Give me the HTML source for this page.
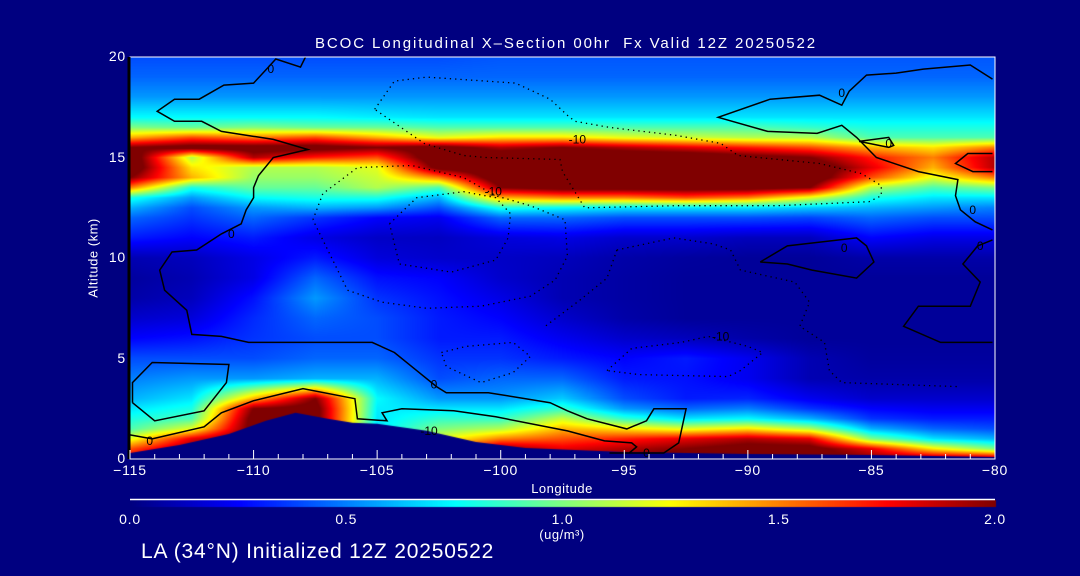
<!DOCTYPE html>
<html><head><meta charset="utf-8">
<style>
html,body{margin:0;padding:0;background:#000080;}
#wrap{position:relative;width:1080px;height:576px;background:#000080;overflow:hidden;font-family:"Liberation Sans",sans-serif;color:#fff;}
.t{position:absolute;white-space:nowrap;font-size:14px;}
canvas,svg{position:absolute;left:0;top:0;}
</style></head>
<body>
<div id="wrap">
<canvas id="plot" width="1080" height="576"></canvas>
<svg id="ov" width="1080" height="576"></svg>
<div class="t" style="left:0;width:1132px;text-align:center;top:35px;font-size:15px;letter-spacing:1.9px;">BCOC Longitudinal X–Section 00hr&nbsp;&nbsp;Fx Valid 12Z 20250522</div>
<div class="t" style="left:0;width:1124px;text-align:center;top:481px;font-size:13px;letter-spacing:0.5px;">Longitude</div>
<div class="t" style="left:93px;top:258px;font-size:13px;letter-spacing:0.5px;transform:translate(-50%,-50%) rotate(-90deg);">Altitude (km)</div>
<div class="t" style="left:562px;top:527px;font-size:13px;letter-spacing:0.5px;transform:translateX(-50%);">(ug/m³)</div>
<div class="t" style="left:141px;top:540px;font-size:21px;letter-spacing:0.8px;">LA (34°N) Initialized 12Z 20250522</div>
<div id="labels"></div>
</div>
<script>
const lons=[-115,-112.5,-110,-107.5,-105,-102.5,-100,-97.5,-95,-92.5,-90,-87.5,-85,-82.5,-80];
const levels=[0,0.5,1,1.5,2,2.5,3,4,5,6,7,8,9,10,11,12,12.5,13,13.5,14,14.5,15,15.5,16,16.5,17,18,19,20];
const concByLon=[
[1.8,1.6,1.2,0.9,0.8,0.7,0.6,0.5,0.4,0.25,0.15,0.08,0.06,0.1,0.3,0.45,0.6,0.8,1.5,2.0,2.2,2.2,2.0,1.4,1.0,0.75,0.55,0.45,0.4],
[2.0,2.0,1.8,1.2,0.9,0.8,0.7,0.55,0.4,0.28,0.18,0.12,0.1,0.12,0.25,0.35,0.4,0.55,0.8,1.4,1.3,1.1,2.1,1.6,0.95,0.75,0.55,0.45,0.4],
[2.1,2.1,2.1,2.1,2.1,2.0,1.4,0.55,0.4,0.35,0.33,0.28,0.2,0.2,0.3,0.45,0.55,0.75,0.95,1.05,1.1,1.9,2.1,1.5,1.0,0.75,0.55,0.45,0.4],
[2.1,2.1,2.1,2.1,2.1,2.1,2.0,0.6,0.45,0.4,0.45,0.55,0.45,0.3,0.2,0.35,0.6,0.8,0.95,1.05,1.1,1.7,2.1,1.6,0.95,0.75,0.55,0.45,0.4],
[0.7,0.7,0.7,0.7,0.7,0.72,0.75,0.6,0.45,0.4,0.4,0.35,0.28,0.18,0.14,0.25,0.55,0.8,1.1,1.15,1.2,1.6,2.0,1.4,0.95,0.72,0.55,0.45,0.4],
[1.6,1.4,1.2,1.0,0.85,0.7,0.55,0.4,0.35,0.3,0.3,0.28,0.25,0.15,0.13,0.22,0.4,0.6,0.9,1.5,2.1,2.2,2.1,1.2,0.9,0.7,0.55,0.45,0.4],
[2.0,2.0,1.5,1.1,0.85,0.7,0.55,0.45,0.35,0.3,0.25,0.2,0.15,0.14,0.18,0.45,0.8,1.4,2.0,2.2,2.2,2.2,1.9,1.3,0.9,0.7,0.55,0.45,0.42],
[1.9,1.8,1.6,1.4,1.15,0.85,0.65,0.45,0.3,0.22,0.15,0.1,0.1,0.12,0.2,0.45,0.75,1.5,2.1,2.2,2.2,2.2,2.0,1.3,0.9,0.7,0.55,0.45,0.42],
[2.0,1.9,1.7,1.3,0.85,0.55,0.4,0.3,0.25,0.15,0.08,0.07,0.07,0.08,0.15,0.4,0.7,1.5,2.1,2.2,2.2,2.2,1.9,1.2,0.9,0.7,0.55,0.45,0.42],
[2.1,2.0,1.8,1.2,0.7,0.45,0.3,0.28,0.3,0.12,0.05,0.05,0.05,0.06,0.15,0.4,0.7,1.6,2.1,2.2,2.2,2.2,1.8,1.15,0.9,0.7,0.55,0.45,0.42],
[2.1,2.1,1.9,1.3,0.75,0.5,0.32,0.22,0.22,0.08,0.05,0.05,0.05,0.05,0.12,0.4,0.7,1.5,2.1,2.2,2.2,2.1,1.7,1.1,0.9,0.7,0.55,0.45,0.42],
[2.1,2.1,1.8,1.1,0.6,0.35,0.22,0.1,0.1,0.05,0.05,0.05,0.05,0.05,0.12,0.38,0.65,1.2,2.0,2.2,2.2,2.0,1.6,1.1,0.85,0.7,0.55,0.45,0.42],
[2.0,1.8,1.0,0.6,0.35,0.25,0.15,0.08,0.06,0.05,0.05,0.05,0.05,0.08,0.25,0.45,0.6,0.8,1.1,1.6,1.8,1.7,1.4,0.9,0.8,0.7,0.55,0.45,0.42],
[2.0,1.3,0.7,0.45,0.3,0.22,0.15,0.08,0.06,0.05,0.05,0.05,0.05,0.08,0.2,0.4,0.55,0.7,0.9,1.2,1.4,1.5,1.3,0.9,0.8,0.7,0.55,0.45,0.42],
[2.0,1.0,0.6,0.4,0.3,0.22,0.15,0.08,0.06,0.05,0.05,0.05,0.05,0.08,0.2,0.4,0.5,0.7,1.0,1.5,1.9,1.9,1.5,0.9,0.8,0.7,0.55,0.45,0.42]
];
const terrainLon=[-115,-113,-111,-109.5,-108.3,-107,-106,-105,-103,-101,-99,-97,-95,-90,-85,-80];
const terrainAlt=[0.3,0.7,1.25,1.9,2.3,2.0,1.8,1.75,1.4,0.85,0.55,0.45,0.35,0.25,0.2,0.1];
const xTicks=[-115,-110,-105,-100,-95,-90,-85,-80];
const yTicks=[0,5,10,15,20];
const cbTicks=[0,0.5,1.0,1.5,2.0];
const solidContours=[
[[-107.9,20],[-108.1,19.5],[-109.1,19.9],[-109.4,19.5],[-110,18.7],[-111.2,18.6],[-112.2,17.9],[-113.2,17.9],[-113.9,17.3],[-113.2,16.8],[-112.1,16.8],[-111.3,16.3],[-109.2,15.9],[-107.8,15.4],[-109.2,15],[-109.8,14.1],[-110,13.5],[-110,13],[-110.3,12.4],[-110.5,11.7],[-111.3,11.2],[-112.3,10.4],[-113.3,10.3],[-113.8,9.4],[-113.6,8.4],[-112.7,7.4],[-112.5,6.2],[-111.3,6.1],[-110.2,5.8],[-105.2,5.8],[-104.3,5.3],[-103.4,4.4],[-102.6,3.6],[-102.2,3.3],[-100.5,3.3],[-98,2.8],[-97.3,2.4],[-96.5,2],[-94.9,1.5],[-94.1,1.9],[-93.8,2.5],[-92.5,2.5],[-92.8,0.8],[-93.4,0.3],[-95.6,0.3]],
[[-114.9,2.8],[-114.9,3.8],[-114.1,4.8],[-111,4.7],[-111.1,3.8],[-112,2.4],[-114,1.9],[-114.9,2.8]],
[[-115,1.2],[-114.1,1],[-112,1.6],[-111.3,2.3],[-110,2.9],[-108,3.5],[-105.9,3],[-105.8,2],[-104.6,1.9],[-104.8,2.3],[-104,2.5],[-101.9,2.4],[-100.2,2.1],[-97.3,1.4],[-95.8,0.9],[-94.7,0.8],[-94.5,0.6],[-94.8,0.3]],
[[-80.1,18.9],[-81,19.6],[-82.9,19.4],[-84,19.2],[-85.2,19.1],[-85.9,18.3],[-86.2,17.6],[-87.1,18.1],[-89.1,17.9],[-91.2,17],[-89.2,16.3],[-87.2,16.2],[-86.2,16.6],[-85.6,16],[-84.8,15],[-83.1,14.3],[-81.5,13.9],[-81.6,13.1],[-81.4,12.4],[-80.8,11.8],[-80.1,11.4]],
[[-85.5,15.8],[-84.3,16],[-84.1,15.6],[-84.3,15.5],[-85.5,15.8]],
[[-80.1,15.2],[-81.1,15.2],[-81.6,14.7],[-80.9,14.3],[-80.1,14.3]],
[[-89.5,9.8],[-88.4,10.6],[-85.6,11],[-85.2,10.6],[-84.9,9.8],[-85.6,9],[-87.4,9.4],[-88.4,9.7],[-89.5,9.8]],
[[-80.1,10.9],[-80.7,10.6],[-81.3,9.7],[-80.6,8.8],[-81,7.6],[-83.1,7.6],[-83.7,6.6],[-82.2,5.8],[-80.1,5.8]]
];
const dottedContours=[
[[-105.1,17.4],[-104.3,18.8],[-103,19],[-99.4,18.7],[-98,17.9],[-97.3,17.1],[-97,16.8],[-95.6,16.5],[-92.9,16.1],[-91.1,15.7],[-90.4,15.1],[-87.1,14.7],[-85.4,14.2],[-84.6,13.6],[-84.6,13.1],[-85.1,12.8],[-88.8,12.6],[-92.9,12.6],[-96.6,12.5],[-97.5,14.3],[-97.6,14.9],[-100.6,15],[-101.5,15.1],[-103.1,15.7],[-105.1,17.4]],
[[-107.6,11.9],[-107.2,13.2],[-105.8,14.5],[-103.6,14.6],[-101.5,14],[-100.2,13.1],[-98.8,12.6],[-97.4,11.9],[-97.3,10.1],[-97.8,8.9],[-98.8,8.1],[-100.8,7.6],[-103,7.5],[-104.8,7.8],[-106.2,8.4],[-106.8,9.9],[-107.6,11.9]],
[[-104.5,11.7],[-103.4,13],[-101.5,13.3],[-100.2,13],[-99.6,12.2],[-99.7,11],[-100.2,9.9],[-102,9.3],[-104.1,9.7],[-104.5,11.7]],
[[-95.3,10.4],[-93,11],[-91.4,10.7],[-90.7,10.4],[-90.3,9.4],[-88.1,8.8],[-87.5,7.8],[-87.9,6.6],[-86.9,5.8],[-86.7,4.4],[-86.2,3.8],[-81.5,3.6]],
[[-95.3,10.4],[-95.7,9],[-96.8,7.9],[-98.2,6.6]],
[[-95.7,4.4],[-94.7,5.5],[-92.7,5.8],[-91.6,6.1],[-90,5.6],[-89.4,5.3],[-90.3,4.4],[-90.8,4.1],[-94.4,4.2],[-95.7,4.4]],
[[-102.4,5.3],[-101.4,5.6],[-99.5,5.8],[-98.8,5.1],[-99.5,4.3],[-100.8,3.8],[-102.2,4.6],[-102.4,5.3]]
];
const contourLabels=[["0",-109.3,19.4],["0",-110.9,11.2],["0",-102.7,3.7],["0",-114.2,0.9],["0",-86.2,18.2],["0",-84.3,15.7],["0",-80.9,12.4],["0",-86.1,10.5],["0",-80.6,10.6],["0",-94.1,0.3],["-10",-100.3,13.3],["-10",-102.9,1.4],["-10",-96.9,15.9],["-10",-91.1,6.1]];

const X0=130,X1=995,YB=459,YT=57;
function xs(lon){return X0+(lon+115)/35*(X1-X0);}
function ys(alt){return YB-alt/20*(YB-YT);}
function jet(v){const t=Math.max(0,Math.min(1,v/2));const c=x=>Math.round(255*Math.max(0,Math.min(1,x)));return [c(1.5-Math.abs(4*t-3)),c(1.5-Math.abs(4*t-2)),c(1.5-Math.abs(4*t-1))];}
function idx(arr,v){let i=0;while(i<arr.length-2&&v>arr[i+1])i++;return i;}
function field(lon,alt){
  const i=idx(lons,lon),j=idx(levels,alt);
  const fx=Math.max(0,Math.min(1,(lon-lons[i])/(lons[i+1]-lons[i])));
  const fy=Math.max(0,Math.min(1,(alt-levels[j])/(levels[j+1]-levels[j])));
  const a=concByLon[i][j],b=concByLon[i+1][j],c=concByLon[i][j+1],d=concByLon[i+1][j+1];
  return (a*(1-fx)+b*fx)*(1-fy)+(c*(1-fx)+d*fx)*fy;
}
const cv=document.getElementById('plot');const ctx=cv.getContext('2d');
const W=X1-X0,H=YB-YT;
const img=ctx.createImageData(W,H);
for(let py=0;py<H;py++){const alt=(YB-(YT+py+0.5))/(YB-YT)*20;
  for(let px=0;px<W;px++){const lon=-115+(px+0.5)/W*35;
    const col=jet(field(lon,alt));const k=(py*W+px)*4;
    img.data[k]=col[0];img.data[k+1]=col[1];img.data[k+2]=col[2];img.data[k+3]=255;}}
ctx.putImageData(img,X0,YT);
ctx.fillStyle='#000080';ctx.beginPath();ctx.moveTo(xs(terrainLon[0]),YB);
for(let i=0;i<terrainLon.length;i++)ctx.lineTo(xs(terrainLon[i]),ys(terrainAlt[i]));
ctx.lineTo(xs(-80),YB);ctx.closePath();ctx.fill();
for(let px=0;px<=W;px++){const col=jet(px/W*2);ctx.fillStyle=`rgb(${col[0]},${col[1]},${col[2]})`;ctx.fillRect(X0+px,500,1,7);}

const NS='http://www.w3.org/2000/svg';const ov=document.getElementById('ov');
function mk(tag,attrs){const e=document.createElementNS(NS,tag);for(const k in attrs)e.setAttribute(k,attrs[k]);ov.appendChild(e);return e;}
solidContours.forEach((c,n)=>{const e=mk('polyline',{points:c.map(p=>xs(p[0]).toFixed(1)+','+ys(p[1]).toFixed(1)).join(' '),fill:'none',stroke:'#000','stroke-width':1.5});

});
dottedContours.forEach((c,n)=>{const e=mk('polyline',{points:c.map(p=>xs(p[0]).toFixed(1)+','+ys(p[1]).toFixed(1)).join(' '),fill:'none',stroke:'#000','stroke-width':1.3,'stroke-dasharray':'1.3 4'});

});
contourLabels.forEach(l=>{const e=mk('text',{x:xs(l[1]),y:ys(l[2])+4,'text-anchor':'middle','font-size':12,'font-family':'Liberation Sans, sans-serif',fill:'#000'});e.textContent=l[0];

});
let f=mk('rect',{x:X0,y:YT,width:W,height:H,fill:'none',stroke:'#fff','stroke-width':1});


let la=mk('line',{x1:X0-1,y1:YT,x2:X0-1,y2:YB,stroke:'#000','stroke-width':3});


let cb=mk('line',{x1:X0,y1:499.5,x2:X1,y2:499.5,stroke:'#fff','stroke-width':1.5});


for(let lon=-115;lon<=-80;lon++){const major=(lon%5===0);const t=mk('line',{x1:xs(lon),y1:YB,x2:xs(lon),y2:YB-(major?9:5),stroke:'#fff','stroke-width':1});

}
const labs=document.getElementById('labels');
function lab(txt,x,y,anchor,name){const d=document.createElement('div');d.className='t';d.textContent=txt;d.style.top=y+'px';d.style.letterSpacing='0.8px';
 if(anchor==='c'){d.style.left=x+'px';d.style.transform='translateX(-50%)';}else{d.style.right=(1080-x)+'px';}
 
 
 labs.appendChild(d);}
xTicks.forEach(v=>lab((v<0?'−':'')+Math.abs(v),xs(v),462,'c','x-tick-label'));
yTicks.forEach(v=>lab(String(v),126,ys(v)-9,'r','y-tick-label'));
cbTicks.forEach(v=>lab(v.toFixed(1),X0+v/2*W,511,'c','colorbar-tick-label'));
</script>
</body></html>
